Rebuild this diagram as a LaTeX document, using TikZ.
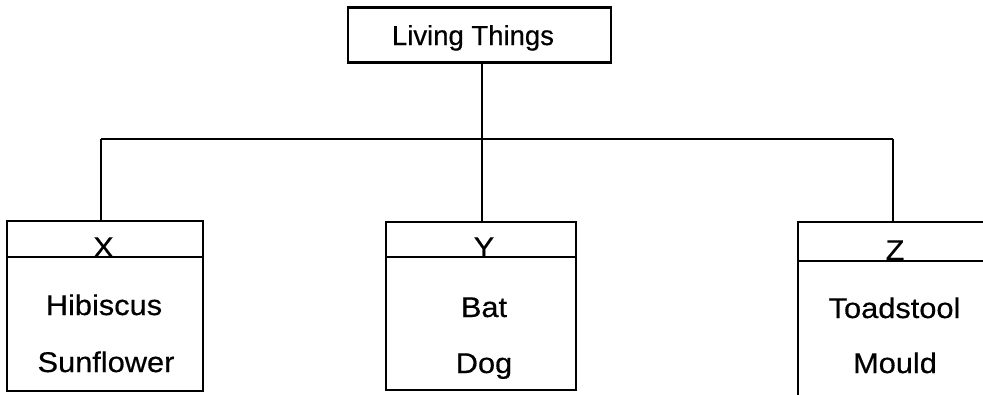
\documentclass[tikz,border=0pt]{standalone}
\usepackage{fontspec}
\setmainfont{Liberation Sans}
\newfontfamily\topfont[FakeBold=0.5]{Liberation Sans}
\newfontfamily\widefont[FakeStretch=1.08,FakeBold=0.5]{Liberation Sans}
\begin{document}
\begin{tikzpicture}[x=1pt,y=-1pt,
  boxline/.style={draw=black,line width=2.4pt},
  cell/.style={boxline,rectangle,inner sep=0pt},
  toptext/.style={anchor=base,inner sep=0pt,font=\topfont\fontsize{27.5}{30}\selectfont},
  bodytext/.style={anchor=base,inner sep=0pt,font=\widefont\fontsize{28.5}{31}\selectfont},
  conn/.style={line width=2.4pt}]
\clip (0,0) rectangle (983,394);
\fill[white] (0,0) rectangle (983,394);
% top box
\node[cell,minimum width=263pt,minimum height=55pt] (top) at (479.5,35) {};
\node[toptext] (toplbl) at (473,45) {Living Things};
% X box
\node[cell,minimum width=196pt,minimum height=36pt] (xhead) at (105,239) {};
\node[cell,minimum width=196pt,minimum height=134pt] (xbody) at (105,324) {};
\node[bodytext] (xlbl) at (103.5,257) {X};
\node[bodytext] (x1) at (104,315) {Hibiscus};
\node[bodytext] (x2) at (106,372) {Sunflower};
% Y box
\node[cell,minimum width=190pt,minimum height=35pt] (yhead) at (481,239.5) {};
\node[cell,minimum width=190pt,minimum height=133pt] (ybody) at (481,323.5) {};
\node[bodytext] (ylbl) at (484,257) {Y};
\node[bodytext] (y1) at (484,317) {Bat};
\node[bodytext] (y2) at (484,373) {Dog};
% Z box (runs past the right and bottom edges)
\node[cell,minimum width=200pt,minimum height=39pt] (zhead) at (898,241.5) {};
\node[cell,minimum width=200pt,minimum height=150pt] (zbody) at (898,336) {};
\node[bodytext] (zlbl) at (895,260) {Z};
\node[bodytext] (z1) at (894.5,318) {Toadstool};
\node[bodytext] (z2) at (895,373) {Mould};
% connectors
\coordinate (jx) at (101,139);
\coordinate (jy) at (482,139);
\coordinate (jz) at (893,139);
\draw[conn] (top.south -| jy) -- (jy);
\draw[conn] (jx) -- (jz);
\draw[conn] (jx) -- (jx |- xhead.north);
\draw[conn] (jy) -- (jy |- yhead.north);
\draw[conn] (jz) -- (jz |- zhead.north);
\end{tikzpicture}
\end{document}
